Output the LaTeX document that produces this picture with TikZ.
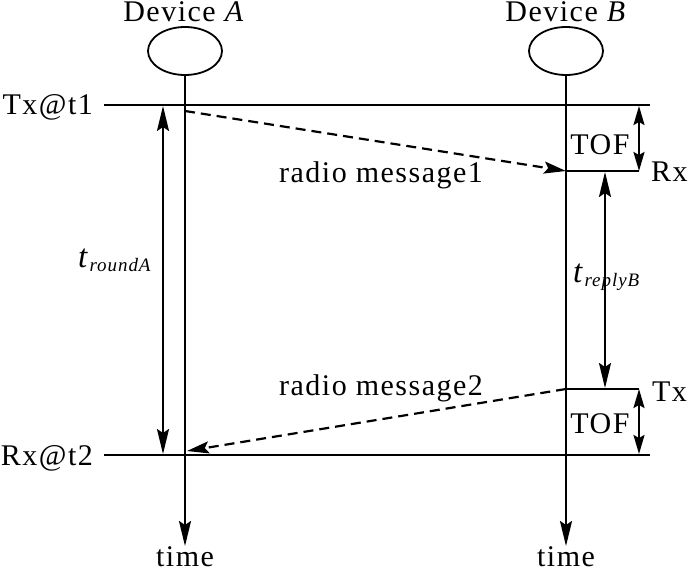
\documentclass[tikz,border=0pt]{standalone}
\usepackage{fontspec}
\setmainfont[LetterSpace=5]{Liberation Serif}
\usetikzlibrary{arrows.meta,shapes.geometric}
\begin{document}
\begin{tikzpicture}[x=1pt,y=-1pt,line width=2.2pt,
  lbl/.style={inner sep=0pt,anchor=base,font=\fontsize{30}{34}\selectfont},
  dev/.style={ellipse,draw,line width=1.8pt,minimum width=74pt,minimum height=48pt,inner sep=0pt},
  tip/.style={-{Stealth[length=25pt,width=12pt,inset=4pt]}},
  dtip/.style={{Stealth[length=19pt,width=11pt,inset=3pt]}-{Stealth[length=19pt,width=11pt,inset=3pt]}},
  ltip/.style={{Stealth[length=25pt,width=12pt,inset=4pt]}-{Stealth[length=25pt,width=12pt,inset=4pt]}},
  msg/.style={dash pattern=on 10pt off 6pt,-{Stealth[length=22pt,width=12pt,inset=4pt]}}]
\useasboundingbox (0,0) rectangle (694,572);
% devices
\node[lbl] (la) at (184,22) {Device \textit{A}};
\node[lbl] (lb) at (566,22) {Device \textit{B}};
\node[dev] (ea) at (185,51) {};
\node[dev] (eb) at (566,51) {};
% coordinates
\coordinate (aend) at (185,546);
\coordinate (bend) at (566,546);
\coordinate (L1) at (104,105);
\coordinate (R1) at (650,105);
\coordinate (L2) at (104,455);
\coordinate (R2) at (650,455);
\coordinate (a1) at (185,111);
\coordinate (a2) at (187,451);
\coordinate (bRx) at (566,171);
\coordinate (bTx) at (566,389);
\coordinate (cRx) at (639,171);
\coordinate (cTx) at (639,389);
\coordinate (cT1) at (639,106);
\coordinate (cT2) at (639,454);
\coordinate (rA1) at (163,106);
\coordinate (rA2) at (163,454);
\coordinate (rB1) at (605,172);
\coordinate (rB2) at (605,388);
% time axes
\draw[tip] (ea.south) -- (aend);
\draw[tip] (eb.south) -- (bend);
\node[lbl] (ta) at (185,566) {time};
\node[lbl] (tb) at (566,566) {time};
% horizontal lines
\draw (L1) -- (R1);
\draw (L2) -- (R2);
\draw (bRx) -- (cRx);
\draw (bTx) -- (cTx);
\node[lbl,anchor=base east] (tx1) at (94,115) {Tx@t1};
\node[lbl,anchor=base east] (rx2) at (94,465) {Rx@t2};
\node[lbl,anchor=base west] (rx) at (650,182) {Rx};
\node[lbl,anchor=base west] (tx) at (651,401) {Tx};
% messages
\draw[msg] (a1) -- (bRx);
\draw[msg] (bTx) -- (a2);
\node[lbl,anchor=base west] (m1) at (278,183) {radio message1};
\node[lbl,anchor=base west] (m2) at (278,395) {radio message2};
% TOF
\draw[dtip] (cT1) -- (cRx);
\draw[dtip] (cTx) -- (cT2);
\node[lbl] (tof1) at (600,155) {TOF};
\node[lbl] (tof2) at (600,433) {TOF};
% intervals
\draw[ltip] (rA1) -- (rA2);
\draw[ltip] (rB1) -- (rB2);
\node[lbl,anchor=base west] (tr) at (77,268) {{\fontsize{33}{34}\selectfont\textit{t}}\raisebox{-4pt}{\fontsize{19}{20}\selectfont\textit{roundA}}};
\node[lbl,anchor=base west] (tp) at (572,283) {{\fontsize{33}{34}\selectfont\textit{t}}\raisebox{-4pt}{\fontsize{19}{20}\selectfont\textit{replyB}}};
\end{tikzpicture}
\end{document}
